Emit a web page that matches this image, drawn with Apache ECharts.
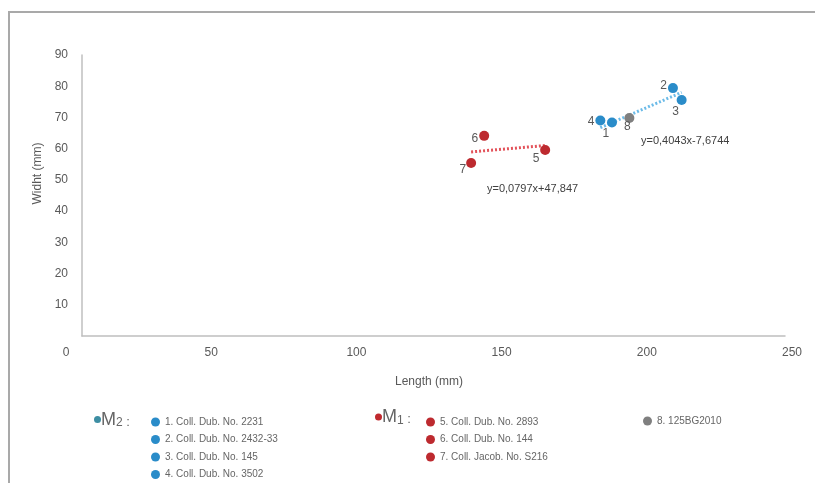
<!DOCTYPE html>
<html>
<head>
<meta charset="utf-8">
<script src="https://cdn.jsdelivr.net/npm/echarts@6/dist/echarts.min.js"></script>
<style>
  html, body { margin: 0; padding: 0; background: #ffffff; }
  #frame { position: absolute; left: 8px; top: 11px; width: 820px; height: 480px;
           border-top: 2px solid #a9a9a9; border-left: 2px solid #a9a9a9; box-sizing: border-box; }
  #chart { position: absolute; left: 0; top: 0; width: 815px; height: 483px; }
</style>
</head>
<body>
<div id="frame"></div>
<div id="chart"></div>
<script>
// ---- data ----
const pointNames = [
  '1. Coll. Dub. No. 2231',
  '2. Coll. Dub. No. 2432-33',
  '3. Coll. Dub. No. 145',
  '4. Coll. Dub. No. 3502',
  '5. Coll. Dub. No. 2893',
  '6. Coll. Dub. No. 144',
  '7. Coll. Jacob. No. S216',
  '8. 125BG2010'
];
const pointLabels = ['1', '2', '3', '4', '5', '6', '7', '8'];
const lengthValues = [188, 209, 212, 184, 165, 144, 139.5, 194];
const widthValues = [68.4, 79.4, 75.6, 69.0, 59.6, 64.1, 55.4, 69.8];
const pointGroup = ['M2', 'M2', 'M2', 'M2', 'M1', 'M1', 'M1', 'other'];
const groupNames = ['M2', 'M1'];
const trendSlopes = [0.4043, 0.0797];
const trendIntercepts = [-7.6744, 47.847];
const trendEquations = ['y=0,4043x-7,6744', 'y=0,0797x+47,847'];
const xAxisRange = [0, 250, 50];
const yAxisRange = [0, 90, 10];
const xAxisTitle = 'Length (mm)';
const yAxisTitle = 'Widht (mm)';

// ---- styles ----
const groupColor = { M2: '#2a8cc9', M1: '#bd2a2f', other: '#7f7f7f' };
const trendColor = { M2: '#6cbbe8', M1: '#e3535b' };
const labelStyle = [
  { position: 'bottom', offset: [-6, -3] },
  { position: 'left', offset: [2, -2] },
  { position: 'bottom', offset: [-6, -2] },
  { position: 'left', offset: [2, 1] },
  { position: 'bottom', offset: [-9, -5] },
  { position: 'left', offset: [2, 3] },
  { position: 'left', offset: [3, 7] },
  { position: 'bottom', offset: [-2, -5] }
];

const series = [];
pointNames.forEach(function (name, i) {
  series.push({
    name: name,
    type: 'scatter',
    xAxisIndex: 0, yAxisIndex: 0,
    symbolSize: 10,
    z: 5,
    itemStyle: { color: groupColor[pointGroup[i]], opacity: 1 },
    label: {
      show: true,
      formatter: pointLabels[i],
      position: labelStyle[i].position,
      offset: labelStyle[i].offset,
      distance: 3,
      color: '#595959',
      fontSize: 12,
      fontFamily: 'Liberation Sans, Arial, sans-serif'
    },
    data: [[lengthValues[i], widthValues[i]]]
  });
});

groupNames.forEach(function (g, k) {
  const xs = lengthValues.filter(function (v, i) { return pointGroup[i] === g; });
  const x0 = Math.min.apply(null, xs), x1 = Math.max.apply(null, xs);
  series.push({
    name: 'trend ' + g,
    type: 'line',
    xAxisIndex: 0, yAxisIndex: 0,
    symbol: 'none',
    silent: true,
    z: 3,
    lineStyle: { color: trendColor[g], width: 3, type: [2, 2] },
    data: [[x0, trendSlopes[k] * x0 + trendIntercepts[k]], [x1, trendSlopes[k] * x1 + trendIntercepts[k]]]
  });
});

const font = 'Liberation Sans, Arial, sans-serif';
const legendBase = {
  orient: 'vertical',
  icon: 'circle',
  padding: 0,
  itemWidth: 9,
  itemHeight: 9,
  itemGap: 7.5,
  textStyle: { fontSize: 10, color: '#666666', fontFamily: font, lineHeight: 10 }
};

const chart = echarts.init(document.getElementById('chart'), null, { renderer: 'canvas' });
chart.setOption({
  animation: false,
  textStyle: { fontFamily: font },
  grid: [
    { left: 66, right: 23, top: 55, bottom: 147 },
    { left: 82, right: 30, top: 55, bottom: 147 }
  ],
  xAxis: [
    {
      gridIndex: 0, type: 'value', min: xAxisRange[0], max: xAxisRange[1], interval: xAxisRange[2],
      axisLine: { show: false }, axisTick: { show: false }, splitLine: { show: false },
      axisLabel: { color: '#595959', fontSize: 12, margin: 11 },
      name: xAxisTitle, nameLocation: 'middle', nameGap: 40,
      nameTextStyle: { color: '#595959', fontSize: 12 }
    },
    {
      gridIndex: 1, type: 'value', min: xAxisRange[0], max: xAxisRange[1], interval: xAxisRange[2],
      axisLine: { show: true, lineStyle: { color: '#bfbfbf', width: 1.5 } },
      axisTick: { show: false }, splitLine: { show: false }, axisLabel: { show: false }
    }
  ],
  yAxis: [
    {
      gridIndex: 0, type: 'value', min: yAxisRange[0], max: yAxisRange[1], interval: yAxisRange[2],
      axisLine: { show: false }, axisTick: { show: false }, splitLine: { show: false },
      axisLabel: { show: false }
    },
    {
      gridIndex: 1, type: 'value', min: yAxisRange[0], max: yAxisRange[1], interval: yAxisRange[2],
      axisLine: { show: true, lineStyle: { color: '#bfbfbf', width: 1.5 } },
      axisTick: { show: false }, splitLine: { show: false },
      axisLabel: {
        color: '#595959', fontSize: 12, margin: 14,
        formatter: function (v) { return v === 0 ? '' : String(v); }
      },
      name: yAxisTitle, nameLocation: 'middle', nameGap: 37, nameRotate: 90,
      nameTextStyle: { color: '#595959', fontSize: 12, padding: [0, 0, 0, 44] }
    }
  ],
  legend: [
    Object.assign({}, legendBase, { left: 151, top: 417, data: pointNames.slice(0, 4) }),
    Object.assign({}, legendBase, { left: 426, top: 417, data: pointNames.slice(4, 7) }),
    Object.assign({}, legendBase, { left: 643, top: 416, data: pointNames.slice(7) })
  ],
  graphic: [
    { type: 'text', left: 641, top: 135, style: { text: trendEquations[0], fill: '#404040', font: '11px ' + font } },
    { type: 'text', left: 487, top: 183, style: { text: trendEquations[1], fill: '#404040', font: '11px ' + font } },
    { type: 'circle', shape: { cx: 97.5, cy: 419.5, r: 3.5 }, style: { fill: '#3d8ea3' } },
    {
      type: 'text', left: 101, top: 411,
      style: {
        text: '{m|M}{s|' + groupNames[0].slice(1) + '}{c| :}',
        rich: {
          m: { fontSize: 18, fill: '#666666', fontFamily: font },
          s: { fontSize: 12, fill: '#666666', fontFamily: font, padding: [6, 0, 0, 0] },
          c: { fontSize: 13, fill: '#666666', fontFamily: font, padding: [4, 0, 0, 0] }
        }
      }
    },
    { type: 'circle', shape: { cx: 378.5, cy: 417, r: 3.5 }, style: { fill: '#c0292e' } },
    {
      type: 'text', left: 382, top: 408.5,
      style: {
        text: '{m|M}{s|' + groupNames[1].slice(1) + '}{c| :}',
        rich: {
          m: { fontSize: 18, fill: '#666666', fontFamily: font },
          s: { fontSize: 12, fill: '#666666', fontFamily: font, padding: [6, 0, 0, 0] },
          c: { fontSize: 13, fill: '#666666', fontFamily: font, padding: [4, 0, 0, 0] }
        }
      }
    }
  ],
  series: series
});
</script>
</body>
</html>
